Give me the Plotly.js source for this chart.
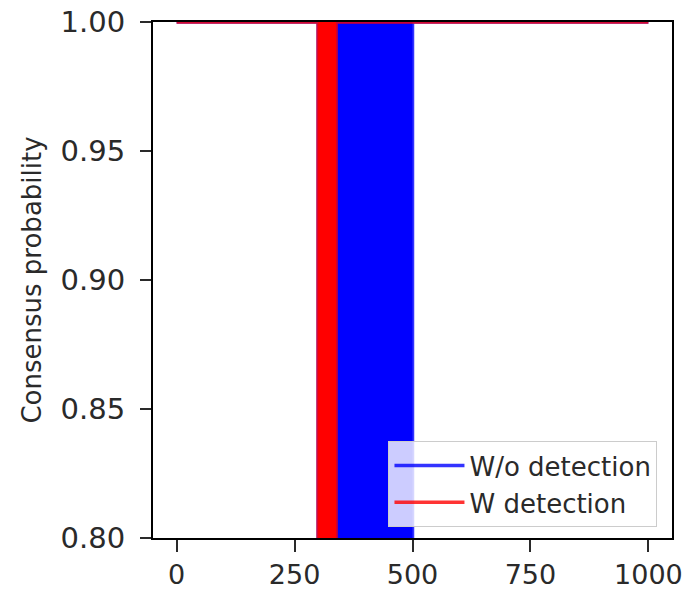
<!DOCTYPE html>
<html>
<head>
<meta charset="utf-8">
<script src="https://cdn.plot.ly/plotly-3.0.1.min.js"></script>
<style>
  html, body { margin: 0; padding: 0; background: #ffffff; }
  #chart { width: 689px; height: 590px; }
</style>
</head>
<body>
<div id="chart"></div>
<script>
// Series: consensus probability over time (breakpoints of the step-like series)
const woDetectionX = [0, 300, 300, 500, 500, 1000];
const woDetectionY = [1.0, 1.0, 0.5, 0.5, 1.0, 1.0];
const wDetectionX  = [0, 300, 300, 338, 338, 1000];
const wDetectionY  = [1.0, 1.0, 0.5, 0.5, 1.0, 1.0];

const seriesNames = ["W/o detection", "W detection"];
const xTickVals = [0, 250, 500, 750, 1000];
const yTickVals = [0.80, 0.85, 0.90, 0.95, 1.00];
const yLabel = "Consensus probability";

const FONT = "DejaVu Sans, Verdana, sans-serif";
const TXT = "#2a2a2a";

const traces = [
  { x: woDetectionX, y: woDetectionY, type: "scatter", mode: "lines",
    fill: "toself", fillcolor: "#0000ff", line: { width: 0, color: "#0000ff" },
    showlegend: false, hoverinfo: "skip" },
  { x: woDetectionX, y: woDetectionY, type: "scatter", mode: "lines",
    name: seriesNames[0], line: { color: "rgba(0,0,255,0.8)", width: 3.5 } },
  { x: wDetectionX, y: wDetectionY, type: "scatter", mode: "lines",
    fill: "toself", fillcolor: "#ff0000", line: { width: 0, color: "#ff0000" },
    showlegend: false, hoverinfo: "skip" },
  { x: wDetectionX, y: wDetectionY, type: "scatter", mode: "lines",
    name: seriesNames[1], line: { color: "rgba(255,0,0,0.8)", width: 3.5 } }
];

const layout = {
  width: 689, height: 590,
  margin: { l: 153, r: 17, t: 22, b: 52 },
  paper_bgcolor: "#ffffff", plot_bgcolor: "#ffffff",
  font: { family: FONT, color: TXT },
  showlegend: true,
  legend: {
    x: 0.972, xanchor: "right", y: 0.021, yanchor: "bottom",
    bgcolor: "rgba(255,255,255,0.8)", bordercolor: "#cccccc", borderwidth: 1,
    font: { family: FONT, size: 26, color: TXT },
    traceorder: "normal", itemwidth: 70, tracegroupgap: 0
  },
  xaxis: {
    range: [-50, 1050], tickvals: xTickVals, ticktext: xTickVals.map(String),
    showgrid: false, zeroline: false, showline: true, mirror: true,
    linecolor: "#000000", linewidth: 2,
    ticks: "outside", ticklen: 12, tickwidth: 2, tickcolor: TXT,
    tickfont: { family: FONT, size: 27, color: TXT }
  },
  yaxis: {
    range: [0.8, 1.0], tickvals: yTickVals, ticktext: yTickVals.map(v => v.toFixed(2)),
    showgrid: false, zeroline: false, showline: true, mirror: true,
    linecolor: "#000000", linewidth: 2,
    ticks: "outside", ticklen: 11, tickwidth: 2, tickcolor: TXT,
    ticklabelstandoff: 9,
    tickfont: { family: FONT, size: 29, color: TXT },
    title: { text: yLabel, font: { family: FONT, size: 26, color: TXT }, standoff: 12 }
  }
};

Plotly.newPlot("chart", traces, layout, { displayModeBar: false, staticPlot: true });
</script>
</body>
</html>
